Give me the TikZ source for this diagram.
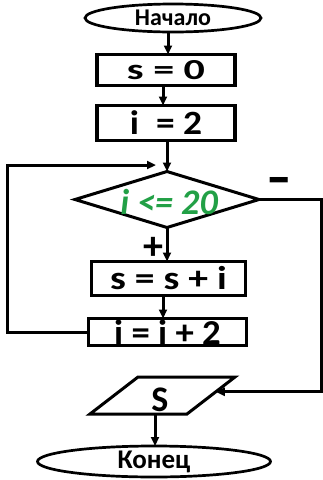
\documentclass[tikz,border=0pt]{standalone}
\usepackage{fontspec}
\setmainfont{Carlito}
\usetikzlibrary{shapes.geometric,arrows.meta,calc}
\definecolor{condgreen}{RGB}{34,160,70}
\newcommand{\widetext}[2]{\scalebox{#1}[1]{#2}}
\newcommand{\sz}[1]{\fontsize{#1}{#1}\selectfont}

\begin{document}
\begin{tikzpicture}[x=1pt,y=-1pt,
  every node/.style={inner sep=0pt, outer sep=0pt, font=\bfseries},
  term/.style={draw, ellipse, line width=2.7pt},
  proc/.style={draw, rectangle, line width=3.3pt},
  arr/.style={line width=3pt, -{Triangle[length=9pt,width=8pt]}},
]
\useasboundingbox (0,0) rectangle (323,480);

% x positions of the vertical connectors
\coordinate (spineA) at (168,0);
\coordinate (spineB) at (163,0);
\coordinate (spineC) at (155,0);
% corners of the loop and of the "no" branch
\coordinate (loopL) at (7,165);
\coordinate (loopT) at (156,165);
\coordinate (rightR) at (321.5,200);
% corners of the output parallelogram
\coordinate (pTL) at (138,377);
\coordinate (pTR) at (235,377);
\coordinate (pBR) at (187,414);
\coordinate (pBL) at (90,414);
\coordinate (outIn) at ($(pTR)!0.4!(pBR)$);
\coordinate (outBot) at (155,414);

% blocks
\node[term, minimum width=176, minimum height=28, font=\bfseries\sz{24}] (start) at (173,18) {Начало};
\node[proc, minimum width=138, minimum height=31, font=\bfseries\sz{29}] (s0) at (166,70) {\widetext{1.45}{s = 0}};
\node[proc, minimum width=138, minimum height=35, font=\bfseries\sz{34}] (i2) at (166,123) {\widetext{1.1}{i\ \ = 2}};
\node[draw, diamond, line width=3pt, minimum width=184, minimum height=56] (cond) at (167,199.5) {};
\node[font=\bfseries\itshape\sz{36}, text=condgreen] (condlabel) at (169,201.5) {i <= 20};
\node[proc, minimum width=154, minimum height=34, font=\bfseries\sz{33}] (acc) at (168.5,278.5) {\widetext{1.2}{s = s + i}};
\node[proc, minimum width=158, minimum height=27, font=\bfseries\sz{35}] (inc) at (167.5,332) {\widetext{1.05}{i = i + 2}};
\draw[line width=3pt] (pTL) -- (pTR) -- (pBR) -- (pBL) -- cycle;
\node[font=\bfseries\sz{36}] (outlabel) at (160,400) {S};
\node[term, minimum width=233, minimum height=31, font=\bfseries\sz{27}] (end) at (154,461.5) {Конец};

% branch labels
\node[font=\bfseries\sz{40}] (plus) at (153,248) {+};
\node[font=\bfseries\sz{34}] (minus) at (279.5,187) {\scalebox{1.5}[1.8]{–}};

% connectors
\draw[arr] (start.south -| spineA) -- (s0.north -| spineA);
\draw[arr] (s0.south -| spineB) -- (i2.north -| spineB);
\draw[arr] (i2.south -| cond.north) -- (cond.north);
\draw[arr] (cond.south) -- (acc.north -| cond.south);
\draw[arr] (acc.south -| spineB) -- (inc.north -| spineB);
\draw[arr] (inc.west) -| (loopL) -- (loopT);
\draw[arr] (cond.east) -- (cond.east -| rightR) |- (outIn);
\draw[arr] (outBot) -- (end.north -| spineC);
\end{tikzpicture}
\end{document}
